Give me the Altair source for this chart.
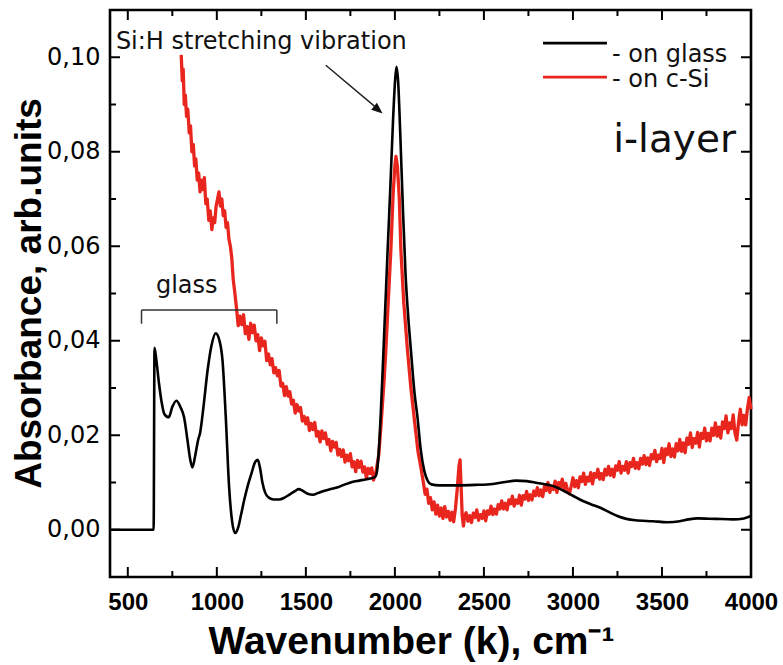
import altair as alt
import pandas as pd

# ---------------- data ----------------
glass_k = [400, 645, 650, 660, 675, 690, 705, 730, 750, 773, 795, 816, 835, 850, 863,
           880, 895, 906, 925, 948, 970, 994, 1015, 1032, 1050, 1069, 1085, 1103, 1120,
           1135, 1155, 1175, 1195, 1215, 1230, 1242, 1256, 1272, 1292, 1320, 1350, 1380,
           1410, 1440, 1460, 1480, 1510, 1540, 1570, 1600, 1640, 1680, 1720, 1760, 1800,
           1840, 1870, 1890, 1900, 1910, 1920, 1936, 1959, 1975, 1990, 2001, 2009, 2018,
           2030, 2045, 2060, 2075, 2090, 2110, 2127, 2145, 2165, 2185, 2205, 2250, 2350,
           2450, 2550, 2620, 2680, 2740, 2800, 2860, 2900, 2950, 3000, 3050, 3100, 3157,
           3200, 3250, 3300, 3350, 3450, 3530, 3600, 3650, 3700, 3800, 3900, 3960, 4000]
glass_A = [0.0, 0.0, 0.0385, 0.036, 0.031, 0.027, 0.0245, 0.0238, 0.026, 0.0273, 0.026,
           0.0238, 0.019, 0.015, 0.0132, 0.016, 0.019, 0.0205, 0.026, 0.0337, 0.039,
           0.0416, 0.040, 0.0358, 0.024, 0.009, 0.002, -0.0007, 0.0005, 0.003, 0.0065,
           0.0095, 0.012, 0.0143, 0.0148, 0.0132, 0.010, 0.0078, 0.0068, 0.0064, 0.0064,
           0.0068, 0.0075, 0.0082, 0.0086, 0.0083, 0.0076, 0.0074, 0.0078, 0.0082, 0.0086,
           0.0090, 0.0096, 0.0101, 0.0104, 0.0107, 0.0109, 0.0112, 0.0125, 0.017, 0.024,
           0.038, 0.059, 0.073, 0.087, 0.095, 0.098, 0.095, 0.084, 0.068, 0.054, 0.045,
           0.038, 0.029, 0.0238, 0.017, 0.0125, 0.0103, 0.0096, 0.0094, 0.0094, 0.0095,
           0.0097, 0.0101, 0.0104, 0.0103, 0.0099, 0.0095, 0.0091, 0.0082, 0.0072, 0.0062,
           0.0054, 0.0046, 0.0038, 0.0029, 0.0023, 0.0020, 0.0018, 0.0016, 0.0018, 0.0022,
           0.0024, 0.0023, 0.0022, 0.0024, 0.0029]

# c-Si curve, read in pieces (noisy trace)
csi_k1 = [800, 806, 811, 817, 823, 830, 837, 845, 852, 860, 868, 875, 882, 890, 898, 906,
          914, 922, 930, 938, 946, 955, 963, 972, 980, 988, 996, 1004, 1012, 1020, 1028,
          1036, 1044, 1052, 1060, 1068, 1076, 1084, 1092, 1100]
csi_A1 = [0.1005, 0.095, 0.0975, 0.090, 0.092, 0.0875, 0.089, 0.084, 0.0855, 0.080,
          0.0815, 0.077, 0.0785, 0.074, 0.0755, 0.0715, 0.074, 0.072, 0.0745, 0.069,
          0.070, 0.0655, 0.0675, 0.0635, 0.066, 0.065, 0.0685, 0.070, 0.0715, 0.0685,
          0.070, 0.0665, 0.0675, 0.064, 0.065, 0.0615, 0.060, 0.0575, 0.053, 0.0505]
csi_k2 = list(range(1110, 1881, 10))
csi_A2 = [0.0471, 0.0432, 0.0452, 0.0434, 0.0455, 0.0415, 0.0430, 0.0403, 0.0437, 0.0417,
          0.0433, 0.0400, 0.0413, 0.0379, 0.0406, 0.0389, 0.0399, 0.0358, 0.0372, 0.0349,
          0.0362, 0.0332, 0.0343, 0.0326, 0.0337, 0.0304, 0.0310, 0.0284, 0.0303, 0.0283,
          0.0292, 0.0266, 0.0274, 0.0247, 0.0265, 0.0251, 0.0259, 0.0230, 0.0240, 0.0224,
          0.0237, 0.0210, 0.0225, 0.0212, 0.0227, 0.0198, 0.0208, 0.0186, 0.0209, 0.0193,
          0.0205, 0.0181, 0.0191, 0.0167, 0.0187, 0.0175, 0.0185, 0.0158, 0.0170, 0.0155,
          0.0169, 0.0143, 0.0158, 0.0146, 0.0161, 0.0133, 0.0144, 0.0123, 0.0147, 0.0132,
          0.0145, 0.0122, 0.0133, 0.0109, 0.0130, 0.0119, 0.0131, 0.0105]
csi_k3 = [1895, 1910, 1925, 1940, 1949, 1965, 1977, 1990, 2000, 2006, 2014, 2025, 2034,
          2050, 2071, 2090, 2108, 2130, 2146]
csi_A3 = [0.0125, 0.016, 0.0238, 0.032, 0.0379, 0.050, 0.059, 0.071, 0.077, 0.079, 0.077,
          0.070, 0.059, 0.048, 0.0379, 0.030, 0.0238, 0.0165, 0.0132]
csi_k4 = [2160, 2170, 2180, 2190, 2200, 2210, 2220, 2230, 2240, 2250, 2260, 2270, 2280,
          2290, 2300, 2310, 2320, 2330, 2340, 2350, 2360, 2366, 2372, 2378, 2385, 2392]
csi_A4 = [0.0100, 0.0075, 0.0086, 0.0056, 0.0068, 0.0042, 0.0059, 0.0033, 0.0052, 0.0029,
          0.0046, 0.0024, 0.0049, 0.0027, 0.0039, 0.0020, 0.0037, 0.0017, 0.0045, 0.0085,
          0.0135, 0.0148, 0.0090, 0.0030, 0.0008, 0.0030]
csi_k5 = list(range(2400, 4001, 10))
csi_A5 = [0.0036, 0.0018, 0.0030, 0.0015, 0.0035, 0.0026, 0.0042, 0.0020, 0.0032, 0.0024,
          0.0040, 0.0019, 0.0040, 0.0033, 0.0050, 0.0032, 0.0044, 0.0033, 0.0053, 0.0044,
          0.0061, 0.0044, 0.0056, 0.0042, 0.0063, 0.0055, 0.0071, 0.0050, 0.0063, 0.0056,
          0.0073, 0.0052, 0.0072, 0.0065, 0.0081, 0.0062, 0.0074, 0.0063, 0.0082, 0.0072,
          0.0089, 0.0072, 0.0084, 0.0070, 0.0092, 0.0083, 0.0100, 0.0079, 0.0092, 0.0085,
          0.0103, 0.0079, 0.0100, 0.0091, 0.0107, 0.0086, 0.0098, 0.0084, 0.0076, 0.0092,
          0.0110, 0.0091, 0.0104, 0.0089, 0.0112, 0.0102, 0.0120, 0.0096, 0.0111, 0.0103,
          0.0121, 0.0097, 0.0119, 0.0111, 0.0128, 0.0107, 0.0119, 0.0106, 0.0128, 0.0116,
          0.0134, 0.0115, 0.0128, 0.0112, 0.0135, 0.0126, 0.0144, 0.0120, 0.0134, 0.0126,
          0.0144, 0.0120, 0.0142, 0.0134, 0.0151, 0.0130, 0.0142, 0.0129, 0.0151, 0.0139,
          0.0157, 0.0138, 0.0152, 0.0136, 0.0159, 0.0150, 0.0168, 0.0144, 0.0158, 0.0151,
          0.0172, 0.0142, 0.0171, 0.0159, 0.0182, 0.0155, 0.0171, 0.0154, 0.0182, 0.0167,
          0.0191, 0.0166, 0.0184, 0.0163, 0.0194, 0.0181, 0.0205, 0.0174, 0.0193, 0.0183,
          0.0206, 0.0175, 0.0204, 0.0193, 0.0215, 0.0188, 0.0204, 0.0188, 0.0215, 0.0200,
          0.0226, 0.0198, 0.0217, 0.0194, 0.0228, 0.0214, 0.0241, 0.0205, 0.0226, 0.0214,
          0.0243, 0.0205, 0.0190, 0.0227, 0.0255, 0.0222, 0.0242, 0.0222, 0.0256, 0.0280,
          0.0255]
csi_k = csi_k1 + csi_k2 + csi_k3 + csi_k4 + csi_k5
csi_A = csi_A1 + csi_A2 + csi_A3 + csi_A4 + csi_A5

x_major = [500, 1000, 1500, 2000, 2500, 3000, 3500, 4000]
x_minor = [750, 1250, 1750, 2250, 2750, 3250, 3750]
y_major = [0.0, 0.02, 0.04, 0.06, 0.08, 0.10]
y_minor = [0.01, 0.03, 0.05, 0.07, 0.09]

legend_labels = ["- on glass", "- on c-Si"]

# ---------------- layout ----------------
W, H = 641, 567
xs = alt.Scale(domain=[400, 4000], nice=False, zero=False)
ys = alt.Scale(domain=[-0.01, 0.11], nice=False, zero=False)
RED = "#e8261d"
SANS = "DejaVu Sans"
BOLD = "Liberation Sans"

x_axis = alt.Axis(values=x_major, format="d", ticks=False, domain=False, grid=False,
                  labelFont=BOLD, labelFontWeight="bold", labelFontSize=24,
                  labelPadding=13, labelFlush=False, labelOverlap=False,
                  title="Wavenumber (k), cm\u207b\u00b9", titleFont=BOLD,
                  titleFontWeight="bold", titleFontSize=39, titleX=301, titleY=76,
                  titleBaseline="alphabetic", titleAlign="center")
y_axis = alt.Axis(values=y_major, ticks=False, domain=False, grid=False,
                  labelExpr="replace(format(datum.value, '.2f'), '.', ',')",
                  labelFont=SANS, labelFontSize=24, labelPadding=10,
                  labelFlush=False, labelOverlap=False,
                  title="Absorbance, arb.units", titleFont=BOLD, titleFontWeight="bold",
                  titleFontSize=37, titleAngle=270, titleX=-70, titleY=283,
                  titleBaseline="alphabetic", titleAlign="center")

df_glass = pd.DataFrame({"k": glass_k, "A": glass_A})
df_csi = pd.DataFrame({"k": csi_k, "A": csi_A})

line_glass = alt.Chart(df_glass).mark_line(color="black", strokeWidth=2.6,
                                           interpolate="monotone").encode(
    x=alt.X("k:Q", scale=xs, axis=x_axis),
    y=alt.Y("A:Q", scale=ys, axis=y_axis),
)
line_csi = alt.Chart(df_csi).mark_line(color=RED, strokeWidth=3.3,
                                       strokeJoin="round").encode(
    x=alt.X("k:Q", scale=xs), y=alt.Y("A:Q", scale=ys))

# ---------------- mirrored inward ticks ----------------
def xticks(vals, length):
    d = pd.DataFrame({"k": vals})
    b = alt.Chart(d).mark_rule(color="black", strokeWidth=2).encode(
        x=alt.X("k:Q", scale=xs), y=alt.value(H), y2=alt.value(H - length))
    t = alt.Chart(d).mark_rule(color="black", strokeWidth=2).encode(
        x=alt.X("k:Q", scale=xs), y=alt.value(0), y2=alt.value(length))
    return [b, t]

def yticks(vals, length):
    d = pd.DataFrame({"A": vals})
    l = alt.Chart(d).mark_rule(color="black", strokeWidth=2).encode(
        y=alt.Y("A:Q", scale=ys), x=alt.value(0), x2=alt.value(length))
    r = alt.Chart(d).mark_rule(color="black", strokeWidth=2).encode(
        y=alt.Y("A:Q", scale=ys), x=alt.value(W), x2=alt.value(W - length))
    return [l, r]

ticks = xticks(x_major, 10) + xticks(x_minor, 6) + yticks(y_major, 10) + yticks(y_minor, 6)

# ---------------- annotations ----------------
ann_title = alt.Chart(pd.DataFrame({"k": [433], "A": [0.1017], "t": ["Si:H stretching vibration"]})).mark_text(
    align="left", baseline="alphabetic", font=SANS, fontSize=24, color="#111").encode(
    x=alt.X("k:Q", scale=xs), y=alt.Y("A:Q", scale=ys), text="t:N")

arrow_line = alt.Chart(pd.DataFrame({"k": [1612], "A": [0.0983], "k2": [1915], "A2": [0.0887]})).mark_rule(
    color="#222", strokeWidth=1.5).encode(
    x=alt.X("k:Q", scale=xs), y=alt.Y("A:Q", scale=ys), x2="k2:Q", y2="A2:Q")
arrow_head = alt.Chart(pd.DataFrame({"k": [1931], "A": [0.0881]})).mark_point(
    shape="M0,0 L-1,-0.4 L-1,0.4 Z", filled=True, color="#111", opacity=1,
    size=500, angle=40).encode(x=alt.X("k:Q", scale=xs), y=alt.Y("A:Q", scale=ys))

br = pd.DataFrame({"k": [577, 577, 1337], "A": [0.0465, 0.0465, 0.0465],
                   "k2": [1337, 577, 1337], "A2": [0.0465, 0.0436, 0.0436]})
bracket = alt.Chart(br).mark_rule(color="#333", strokeWidth=1.5).encode(
    x=alt.X("k:Q", scale=xs), y=alt.Y("A:Q", scale=ys), x2="k2:Q", y2="A2:Q")
glass_txt = alt.Chart(pd.DataFrame({"k": [831], "A": [0.0501], "t": ["glass"]})).mark_text(
    align="center", baseline="alphabetic", font=SANS, fontSize=24, color="#111").encode(
    x=alt.X("k:Q", scale=xs), y=alt.Y("A:Q", scale=ys), text="t:N")

leg_lines = alt.Chart(pd.DataFrame({"k": [2832, 2832], "A": [0.1030, 0.0958],
                                    "k2": [3191, 3191], "s": legend_labels})).mark_rule(
    strokeWidth=2.6).encode(
    x=alt.X("k:Q", scale=xs), y=alt.Y("A:Q", scale=ys), x2="k2:Q",
    color=alt.Color("s:N", scale=alt.Scale(domain=legend_labels, range=["black", RED]), legend=None))
leg_text = alt.Chart(pd.DataFrame({"k": [3219, 3219], "A": [0.0991, 0.0936], "t": legend_labels})).mark_text(
    align="left", baseline="alphabetic", font=SANS, fontSize=24, color="#111").encode(
    x=alt.X("k:Q", scale=xs), y=alt.Y("A:Q", scale=ys), text="t:N")
layer_txt = alt.Chart(pd.DataFrame({"k": [3226], "A": [0.0800], "t": ["i-layer"]})).mark_text(
    align="left", baseline="alphabetic", font=SANS, fontSize=39, color="#111").encode(
    x=alt.X("k:Q", scale=xs), y=alt.Y("A:Q", scale=ys), text="t:N")

chart = alt.layer(
    line_csi, line_glass, *ticks, ann_title, arrow_line, arrow_head, bracket, glass_txt,
    leg_lines, leg_text, layer_txt
).properties(
    width=W, height=H, autosize="none",
    padding={"left": 110, "top": 10, "right": 32, "bottom": 88},
    background="white",
).configure_view(stroke="black", strokeWidth=2.6).configure_axis(
    labelColor="black", titleColor="black")

chart.save("out.html", embed_options={"renderer": "svg", "actions": False})
